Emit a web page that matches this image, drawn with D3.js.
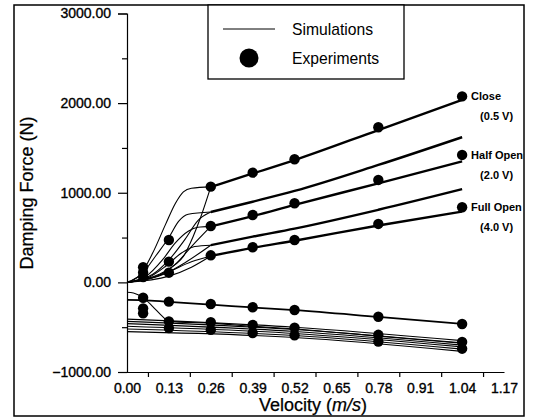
<!DOCTYPE html>
<html><head><meta charset="utf-8">
<script src="https://cdn.jsdelivr.net/npm/d3@7"></script>
<style>
body{margin:0;background:#fff;}
svg{display:block;font-family:"Liberation Sans",Arial,sans-serif;}
</style></head>
<body><svg id="c" width="535" height="419"></svg>
<script>
// ---------- data ----------
const velocity = [0.05, 0.13, 0.26, 0.39, 0.52, 0.78, 1.04];
// experiments, compression
const expClose = [170, 473, 1068, 1224, 1374, 1731, 2075];
const expHalf  = [110, 231, 629, 752, 883, 1143, 1422];
const expFull  = [60, 108, 302, 392, 473, 652, 838];
// experiments, rebound
const expReClose = [-171, -215, -241, -278, -308, -383, -464];
const expReHalf  = [-290, -435, -445, -475, -505, -585, -665];
const expReFull  = [-345, -510, -530, -565, -590, -660, -740];

// simulation tails (thick lines), [velocity, force]
const simClose = [[0.26,1065],[0.39,1215],[0.52,1365],[0.78,1700],[1.04,2035]];
const simMid1  = [[0.26,785],[0.39,900],[0.52,1020],[0.78,1310],[1.04,1620]];
const simHalf  = [[0.26,625],[0.39,740],[0.52,865],[0.78,1105],[1.04,1350]];
const simMid2  = [[0.26,415],[0.39,510],[0.52,600],[0.78,810],[1.04,1040]];
const simFull  = [[0.26,295],[0.39,385],[0.52,465],[0.78,635],[1.04,790]];
// simulation rise curves (thin lines)
const riseClose1 = [[0,0],[0.04,80],[0.08,330],[0.12,650],[0.15,880],[0.175,1010],[0.2,1050],[0.26,1065]];
const riseClose2 = [[0,0],[0.1,90],[0.15,200],[0.175,290],[0.205,510],[0.23,740],[0.26,1065]];
const riseMid1a  = [[0,0],[0.05,110],[0.09,300],[0.13,500],[0.16,680],[0.19,760],[0.26,785]];
const riseMid1b  = [[0,0],[0.08,90],[0.13,250],[0.18,480],[0.22,690],[0.26,785]];
const riseHalf1  = [[0,0],[0.06,70],[0.11,250],[0.15,440],[0.19,570],[0.22,615],[0.26,625]];
const riseHalf2  = [[0,0],[0.1,80],[0.15,200],[0.2,400],[0.26,625]];
const riseMid2a  = [[0,0],[0.07,60],[0.12,180],[0.17,330],[0.21,400],[0.26,415]];
const riseMid2b  = [[0,0],[0.12,100],[0.18,220],[0.26,415]];
const riseFull1  = [[0,0],[0.07,40],[0.13,120],[0.2,230],[0.26,295]];
const riseFull2  = [[0,0],[0.13,70],[0.2,170],[0.26,295]];
// rebound simulations
const simReClose = [[0,-195],[0.05,-198],[0.13,-218],[0.26,-248],[0.39,-280],[0.52,-310],[0.78,-385],[1.04,-462]];
const simReCross = [[0,-110],[0.02,-118],[0.05,-170],[0.08,-270],[0.11,-380],[0.13,-435],[0.26,-455],[0.39,-490],[0.52,-520],[0.78,-600],[1.04,-680]];
const bundleVel = [0, 0.52, 1.04];
const bundle1 = [-410, -500, -650];
const bundle2 = [-435, -525, -675];
const bundle3 = [-460, -548, -700];
const bundle4 = [-490, -570, -720];
const bundle5 = [-520, -593, -745];
const bundle6 = [-550, -615, -770];

const xTickLabels = [0, 0.13, 0.26, 0.39, 0.52, 0.65, 0.78, 0.91, 1.04, 1.17];
const xMinorTicks = [0.065, 0.195, 0.325, 0.455, 0.585, 0.715, 0.845, 0.975, 1.105];
const yTickLabels = [-1000, 0, 1000, 2000, 3000];
const yMinorTicks = [-500, 500, 1500, 2500];
const annotations = [
  {text:"Close", v:1.04, sub:"(0.5 V)", f:2075},
  {text:"Half Open", v:1.04, sub:"(2.0 V)", f:1422},
  {text:"Full Open", v:1.04, sub:"(4.0 V)", f:838}
];

// ---------- drawing ----------
const svg = d3.select("#c");
const x = d3.scaleLinear().domain([0, 1.17]).range([127, 504]);
const y = d3.scaleLinear().domain([-1000, 3000]).range([372, 13.5]);

// outer frame
svg.append("rect").attr("x",14).attr("y",5).attr("width",510).attr("height",411)
  .attr("fill","none").attr("stroke","#000").attr("stroke-width",1.5);

// axes
svg.append("g").attr("transform",`translate(${x(0)},0)`)
  .call(d3.axisLeft(y).tickValues(yTickLabels).tickFormat(d3.format(".2f")).tickSize(9).tickPadding(7));
svg.append("g").attr("transform",`translate(${x(0)},0)`)
  .call(d3.axisLeft(y).tickValues(yMinorTicks).tickFormat("").tickSize(5))
  .select(".domain").remove();
svg.append("g").attr("transform",`translate(0,${y(-1000)})`)
  .call(d3.axisBottom(x).tickValues(xTickLabels).tickFormat(d3.format(".2f")).tickSize(0).tickPadding(11));
svg.append("g").attr("transform",`translate(0,${y(-1000)})`)
  .call(d3.axisBottom(x).tickValues(xMinorTicks).tickFormat("").tickSize(5))
  .select(".domain").remove();
svg.selectAll(".tick text").attr("font-size",14).attr("fill","#000")
  .attr("stroke","#000").attr("stroke-width",0.35)
  .attr("font-family","'Liberation Sans',Arial,sans-serif");
svg.selectAll(".domain").attr("stroke","#000").attr("stroke-width",1.2);
svg.selectAll(".tick line").attr("stroke","#000").attr("stroke-width",1.2);

// axis titles
svg.append("text").attr("transform","translate(33,193) rotate(-90)")
  .attr("text-anchor","middle").attr("font-size",18).attr("stroke","#000").attr("stroke-width",0.25)
  .text("Damping Force (N)");
const xt = svg.append("text").attr("x",313).attr("y",411).attr("text-anchor","middle")
  .attr("font-size",18).attr("stroke","#000").attr("stroke-width",0.25);
xt.append("tspan").text("Velocity (");
xt.append("tspan").attr("font-style","italic").text("m/s");
xt.append("tspan").text(")");

// lines
const line = d3.line().x(d=>x(d[0])).y(d=>y(d[1])).curve(d3.curveMonotoneX);
const plot = svg.append("g").attr("fill","none").attr("stroke","#000");
[riseClose1,riseClose2,riseMid1a,riseMid1b,riseHalf1,riseHalf2,riseMid2a,riseMid2b,riseFull1,riseFull2]
  .forEach(c => plot.append("path").attr("d",line(c)).attr("stroke-width",1.1));
[simClose,simMid1,simHalf,simMid2,simFull]
  .forEach(c => plot.append("path").attr("d",line(c)).attr("stroke-width",2.4));
plot.append("path").attr("d",line(simReClose)).attr("stroke-width",1.7);
plot.append("path").attr("d",line(simReCross)).attr("stroke-width",1.1);
[bundle1,bundle2,bundle3,bundle4,bundle5,bundle6].forEach(b =>
  plot.append("path").attr("d",line(bundleVel.map((v,i)=>[v,b[i]]))).attr("stroke-width",1.1));

// experiment dots
[expClose,expHalf,expFull,expReClose,expReHalf,expReFull].forEach(s =>
  svg.append("g").selectAll("circle").data(s).join("circle")
    .attr("cx",(d,i)=>x(velocity[i])).attr("cy",d=>y(d)).attr("r",5.2).attr("fill","#000"));

// annotations
annotations.forEach(a => {
  svg.append("text").attr("x",x(a.v)+9).attr("y",y(a.f)+4).attr("font-size",11)
    .attr("font-weight","bold").text(a.text);
  svg.append("text").attr("x",x(a.v)+18).attr("y",y(a.f)+24).attr("font-size",11)
    .attr("font-weight","bold").text(a.sub);
});

// legend
const lg = svg.append("g");
lg.append("rect").attr("x",208).attr("y",5).attr("width",196).attr("height",74)
  .attr("fill","#fff").attr("stroke","#000").attr("stroke-width",1.3);
lg.append("line").attr("x1",223).attr("x2",275).attr("y1",29).attr("y2",29)
  .attr("stroke","#000").attr("stroke-width",1);
lg.append("text").attr("x",292).attr("y",35).attr("font-size",15.7).text("Simulations");
lg.append("circle").attr("cx",249).attr("cy",58).attr("r",9.5).attr("fill","#000");
lg.append("text").attr("x",292).attr("y",64).attr("font-size",15.7).text("Experiments");
</script></body></html>
